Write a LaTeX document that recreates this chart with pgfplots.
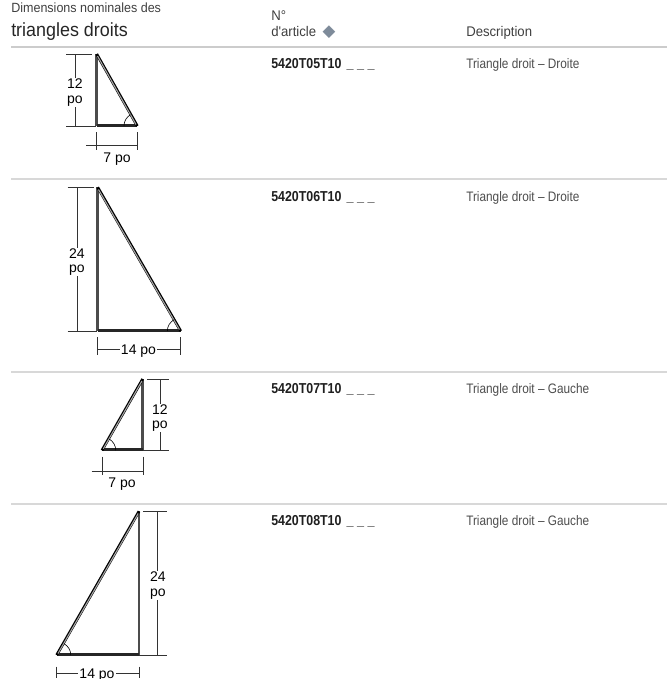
\documentclass[border=0pt]{standalone}
\usepackage{pgfplots}
\pgfplotsset{compat=1.18}
\usepackage{fontspec}
\setmainfont{Liberation Sans}
\newfontfamily\narrow[FakeStretch=0.86]{Liberation Sans}
\newfontfamily\semi[FakeStretch=0.94]{Liberation Sans}
\newfontfamily\sym{DejaVu Sans}
\definecolor{txt}{HTML}{3F3F3F}
\definecolor{desc}{HTML}{4D4D4D}
\definecolor{rulehead}{HTML}{CCCCCC}
\definecolor{rulerow}{HTML}{D8D8D8}
\definecolor{losange}{HTML}{7E8B9A}
\newcommand{\blancs}{\kern1.2pt{\fontsize{11}{11}\selectfont\_ \_ \_}}
\tikzset{
  head/.style={anchor=base west,inner sep=0pt,text=txt},
  code/.style={head,text=black!88,font=\narrow\bfseries\fontsize{10.8}{11}\selectfont},
  libelle/.style={head,text=desc,font=\narrow\fontsize{10.3}{11}\selectfont},
  dimlab/.style={fill=white,inner sep=0.6pt,align=center,text=black,font=\fontsize{10.5}{10.6}\selectfont},
  size7/.style={inner sep=1pt,text=black,font=\fontsize{10.5}{12}\selectfont},
}
\pgfplotsset{
  dim/.style={black!80,line width=0.55pt,forget plot},
  hyp/.style={black,line width=2.1pt,forget plot},
  hypin/.style={gray!70,line width=0.8pt,forget plot},
  leg/.style={black!70,line width=1.9pt,forget plot},
  base/.style={black!85,line width=2pt,forget plot},
  ang/.style={black,line width=0.45pt,smooth,forget plot},
}
\begin{document}
\begin{tikzpicture}
\useasboundingbox (0,0) rectangle (500.25pt,509.25pt);
\begin{axis}[
  hide axis, scale only axis, width=500.25pt, height=509.25pt,
  xmin=0, xmax=667, ymin=0, ymax=679, y dir=reverse, clip=false]

% filets
\addplot[rulehead,line width=1.5pt,forget plot] coordinates {(11,46.5)(667,46.5)};
\addplot[rulerow,line width=0.9pt,forget plot] coordinates {(11,179)(667,179)};
\addplot[rulerow,line width=0.9pt,forget plot] coordinates {(11,372)(667,372)};
\addplot[rulerow,line width=0.9pt,forget plot] coordinates {(11,504)(667,504)};

% triangle 1
\addplot[dim] coordinates {(66,54)(92,54)};
\addplot[dim] coordinates {(66,126)(96,126)};
\addplot[dim] coordinates {(75,54)(75,126)};
\addplot[dim] coordinates {(96.7,132)(96.7,150)};
\addplot[dim] coordinates {(137.5,132)(137.5,150)};
\addplot[dim] coordinates {(86,145.3)(137.5,145.3)};
\addplot[leg] coordinates {(96.7,54)(96.7,126)};
\addplot[base] coordinates {(96.7,125.5)(137.3,125.5)};
\addplot[hyp] coordinates {(96.7,54)(137.3,126)};
\addplot[hypin] coordinates {(97.5,56)(136,124.5)};
\addplot[ang] coordinates {(124,126)(124.4,122.6)(125.7,119.5)(127.8,116.8)(130.5,114.7)};
\node[dimlab] at (axis cs:75,92.5) {12\\po};
\node[size7,inner sep=0pt] at (axis cs:117,159) {7 po};

% triangle 2
\addplot[dim] coordinates {(67.7,187.3)(94,187.3)};
\addplot[dim] coordinates {(67.7,331)(97,331)};
\addplot[dim] coordinates {(77,187.3)(77,331)};
\addplot[dim] coordinates {(97.7,337)(97.7,355)};
\addplot[dim] coordinates {(180.7,337)(180.7,355)};
\addplot[dim] coordinates {(97.7,349.3)(180.7,349.3)};
\addplot[leg] coordinates {(97.7,187.3)(97.7,331)};
\addplot[base] coordinates {(97.7,330.5)(180.7,330.5)};
\addplot[hyp] coordinates {(97.7,187.3)(180.7,331)};
\addplot[hypin] coordinates {(98.5,189.5)(179.4,329.5)};
\addplot[ang] coordinates {(167.4,331)(167.8,327.6)(169.1,324.5)(171.3,321.8)(174,319.7)};
\node[dimlab] at (axis cs:77,262) {24\\po};
\node[size7,fill=white] at (axis cs:138.5,350.8) {14 po};

% triangle 3
\addplot[dim] coordinates {(147.3,379)(169.3,379)};
\addplot[dim] coordinates {(143,450.3)(169.3,450.3)};
\addplot[dim] coordinates {(160,379)(160,450.3)};
\addplot[dim] coordinates {(102,456.7)(102,475)};
\addplot[dim] coordinates {(143,456.7)(143,475)};
\addplot[dim] coordinates {(91.7,471)(143,471)};
\addplot[leg] coordinates {(142.7,379)(142.7,450.3)};
\addplot[base] coordinates {(102,449.8)(142.7,449.8)};
\addplot[hyp] coordinates {(142.7,379)(102,450.3)};
\addplot[hypin] coordinates {(141.9,381)(103.3,448.8)};
\addplot[ang] coordinates {(115.7,450.3)(115.3,446.9)(114,443.8)(111.9,441.1)(109.2,439)};
\node[dimlab] at (axis cs:160,418) {12\\po};
\node[size7,inner sep=0pt] at (axis cs:122,484) {7 po};

% triangle 4
\addplot[dim] coordinates {(143.3,511.3)(166.7,511.3)};
\addplot[dim] coordinates {(139,655)(166.7,655)};
\addplot[dim] coordinates {(157.7,511.3)(157.7,655)};
\addplot[dim] coordinates {(56.7,666.7)(56.7,678)};
\addplot[dim] coordinates {(139,666.7)(139,678)};
\addplot[dim] coordinates {(56.7,673.3)(139,673.3)};
\addplot[leg] coordinates {(139,511.3)(139,655)};
\addplot[base] coordinates {(56.7,654.5)(139,654.5)};
\addplot[hyp] coordinates {(139,511.3)(56.7,655)};
\addplot[hypin] coordinates {(138.2,513.5)(58,653.5)};
\addplot[ang] coordinates {(70.7,655)(70.3,651.6)(69,648.5)(66.8,645.8)(64,643.7)};
\node[dimlab] at (axis cs:158,585.5) {24\\po};
\node[size7,fill=white] at (axis cs:97,675.5) {14 po};

% en-tetes
\node[head,font=\semi\fontsize{10}{11}\selectfont] at (axis cs:11,12) {Dimensions nominales des};
\node[head,font=\semi\fontsize{14.3}{15}\selectfont,text=black!85] at (axis cs:11,36) {triangles droits};
\node[head,font=\semi\fontsize{10.5}{11}\selectfont] at (axis cs:271,20) {N°};
\node[head,font=\semi\fontsize{10.5}{11}\selectfont] at (axis cs:271,36.5) {d'article};
\node[head,font=\sym\fontsize{12.5}{13}\selectfont,text=losange,anchor=center] at (axis cs:329,32) {◆};
\node[head,font=\semi\fontsize{10.5}{11}\selectfont] at (axis cs:466,36) {Description};

% lignes
\node[code] at (axis cs:271,68) {5420T05T10 \blancs};
\node[libelle] at (axis cs:466,68) {Triangle droit – Droite};
\node[code] at (axis cs:271,201.7) {5420T06T10 \blancs};
\node[libelle] at (axis cs:466,201.7) {Triangle droit – Droite};
\node[code] at (axis cs:271,393.3) {5420T07T10 \blancs};
\node[libelle] at (axis cs:466,393.3) {Triangle droit – Gauche};
\node[code] at (axis cs:271,525) {5420T08T10 \blancs};
\node[libelle] at (axis cs:466,525) {Triangle droit – Gauche};
\end{axis}
\end{tikzpicture}
\end{document}
